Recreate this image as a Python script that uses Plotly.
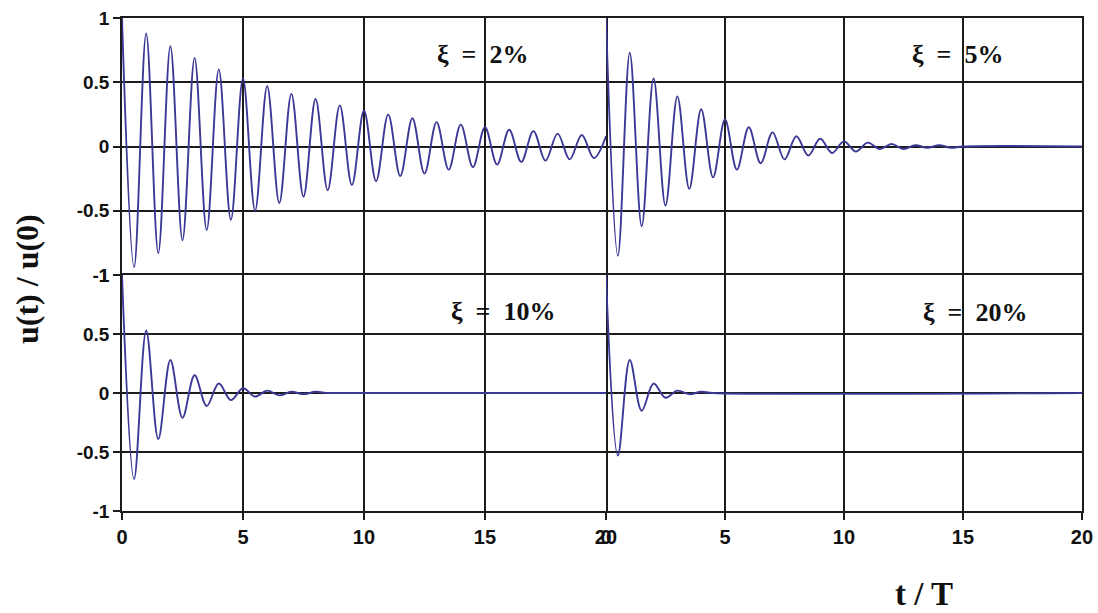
import plotly.graph_objects as go

# Extremum times (t/T) and values for each damping ratio
labels = ["ξ = 2%", "ξ = 5%", "ξ = 10%", "ξ = 20%"]

t_2 = [0, 0.5, 1, 1.5, 2, 2.5, 3, 3.5, 4, 4.5, 5, 5.5, 6, 6.5, 7, 7.5, 8, 8.5, 9, 9.5,
       10, 10.5, 11, 11.5, 12, 12.5, 13, 13.5, 14, 14.5, 15, 15.5, 16, 16.5, 17, 17.5,
       18, 18.5, 19, 19.5, 20]
u_2 = [1.0, -0.94, 0.88, -0.83, 0.78, -0.73, 0.69, -0.65, 0.60, -0.57, 0.53, -0.50,
       0.47, -0.44, 0.41, -0.39, 0.37, -0.34, 0.32, -0.30, 0.28, -0.27, 0.25, -0.23,
       0.22, -0.21, 0.19, -0.18, 0.17, -0.16, 0.15, -0.14, 0.13, -0.12, 0.12, -0.11,
       0.10, -0.10, 0.09, -0.09, 0.08]

t_5 = [0, 0.5, 1, 1.5, 2, 2.5, 3, 3.5, 4, 4.5, 5, 5.5, 6, 6.5, 7, 7.5, 8, 8.5, 9, 9.5,
       10, 10.5, 11, 11.5, 12, 12.5, 13, 13.5, 14, 14.5, 15, 20]
u_5 = [1.0, -0.85, 0.73, -0.62, 0.53, -0.46, 0.39, -0.33, 0.29, -0.24, 0.21, -0.18,
       0.15, -0.13, 0.11, -0.10, 0.08, -0.07, 0.06, -0.05, 0.04, -0.04, 0.03, -0.02,
       0.02, -0.02, 0.01, -0.01, 0.01, -0.01, 0.0, 0.0]

t_10 = [0, 0.5, 1, 1.5, 2, 2.5, 3, 3.5, 4, 4.5, 5, 5.5, 6, 6.5, 7, 7.5, 8, 8.5, 9, 20]
u_10 = [1.0, -0.73, 0.53, -0.39, 0.28, -0.21, 0.15, -0.11, 0.08, -0.06, 0.04, -0.03,
        0.02, -0.02, 0.01, -0.01, 0.01, 0.0, 0.0, 0.0]

t_20 = [0, 0.5, 1, 1.5, 2, 2.5, 3, 3.5, 4, 4.5, 20]
u_20 = [1.0, -0.53, 0.28, -0.15, 0.08, -0.04, 0.02, -0.01, 0.01, 0.0, 0.0]

series = [(t_2, u_2), (t_5, u_5), (t_10, u_10), (t_20, u_20)]

x_ticks = [0, 5, 10, 15, 20]
y_ticks = [-1, -0.5, 0, 0.5, 1]

LINE = "#3c3896"
GRID = "#1c1c1c"
GW = 1.6

fig = go.Figure()

axes = [("x", "y"), ("x2", "y2"), ("x3", "y3"), ("x4", "y4")]
for (tx, uy), (xa, ya) in zip(series, axes):
    fig.add_trace(go.Scatter(x=tx, y=uy, xaxis=xa, yaxis=ya, mode="lines",
                             line=dict(color=LINE, width=1.9, shape="spline", smoothing=1,
                                       simplify=False),
                             showlegend=False, hoverinfo="skip", cliponaxis=False))

xl = [0.1111, 0.5519]
xr = [0.5519, 0.9854]
yt = [0.5514, 0.9706]
yb = [0.1664, 0.5514]

sans = "Liberation Sans, Arial"
common_x = dict(range=[0, 20], tickvals=x_ticks, ticktext=["<b>%g</b>" % v for v in x_ticks],
                showgrid=True, gridcolor=GRID, gridwidth=GW,
                zeroline=False, showline=True, linecolor=GRID, linewidth=GW,
                tickfont=dict(family=sans, size=20, color="#111"))
common_y = dict(range=[-1, 1], tickvals=y_ticks, ticktext=["<b>%g</b>" % v for v in y_ticks],
                showgrid=True, gridcolor=GRID, gridwidth=GW,
                zeroline=False, showline=True, linecolor=GRID, linewidth=GW,
                tickfont=dict(family=sans, size=19, color="#111"))
tk = dict(ticks="outside", ticklen=7, tickcolor=GRID, tickwidth=GW)

fig.update_layout(
    width=1098, height=613, margin=dict(l=0, r=0, t=0, b=0, autoexpand=False),
    paper_bgcolor="white", plot_bgcolor="white",
    # top-left: top border + left/right borders
    xaxis=dict(common_x, domain=xl, anchor="y", side="top", showticklabels=False, ticks=""),
    yaxis=dict(common_y, domain=yt, anchor="x", mirror=True, **tk),
    # top-right: top border + right border
    xaxis2=dict(common_x, domain=xr, anchor="y2", side="top", showticklabels=False, ticks=""),
    yaxis2=dict(common_y, domain=yt, anchor="x2", side="right", showticklabels=False, ticks=""),
    # bottom-left: all borders
    xaxis3=dict(common_x, domain=xl, anchor="y3", mirror=True, **tk),
    yaxis3=dict(common_y, domain=yb, anchor="x3", mirror=True, **tk),
    # bottom-right: bottom/top borders + right border
    xaxis4=dict(common_x, domain=xr, anchor="y4", mirror=True, **tk),
    yaxis4=dict(common_y, domain=yb, anchor="x4", side="right", showticklabels=False, ticks=""),
)

serif = "Liberation Serif, Times New Roman, serif"
ann_pos = [(482, 54), (957, 54), (503, 311), (975, 312)]
for lab, (px, py) in zip(labels, ann_pos):
    txt = lab.replace(" = ", "\u2002=\u2002")
    fig.add_annotation(x=px / 1098, y=1 - py / 613, xref="paper", yref="paper",
                       text="<b>" + txt + "</b>", showarrow=False,
                       font=dict(family=serif, size=26, color="#111"),
                       xanchor="center", yanchor="middle")

fig.add_annotation(x=27 / 1098, y=1 - 279 / 613, xref="paper", yref="paper",
                   text="<b>u(t) / u(0)</b>", showarrow=False, textangle=-90,
                   font=dict(family=serif, size=32, color="#111"),
                   xanchor="center", yanchor="middle")
fig.add_annotation(x=924 / 1098, y=1 - 594 / 613, xref="paper", yref="paper",
                   text="<b>t / T</b>", showarrow=False,
                   font=dict(family=serif, size=33, color="#111"),
                   xanchor="center", yanchor="middle")

fig.write_html("out.html")
